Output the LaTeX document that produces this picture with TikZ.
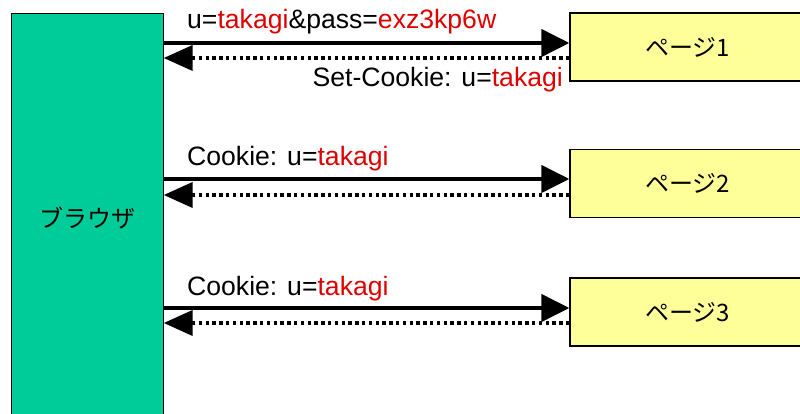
\documentclass[tikz,border=0pt]{standalone}
\usepackage{fontspec}
\setmainfont{Liberation Sans}
\newfontfamily\jpfont{Noto Sans CJK JP}
\usetikzlibrary{arrows.meta,calc}
\definecolor{browsergreen}{RGB}{0,204,153}
\definecolor{pageyellow}{RGB}{255,255,153}
\definecolor{valred}{RGB}{221,0,0}
\tikzset{
  browserbox/.style={draw=black, line width=1.2pt, fill=browsergreen, anchor=north west,
    minimum width=151.5pt, minimum height=408pt, inner sep=0pt,
    font=\jpfont\fontsize{24}{28}\selectfont},
  pagebox/.style={draw=black, line width=1.2pt, fill=pageyellow,
    minimum width=235pt, minimum height=68pt, inner sep=0pt,
    font=\jpfont\fontsize{24}{28}\selectfont},
  req/.style={line width=4.2pt, -{Triangle[length=28pt,width=27pt]}},
  resp/.style={line width=4pt, dash pattern=on 3.5pt off 3.3pt,
    -{Triangle[length=29pt,width=25pt]}},
  msg/.style={inner sep=0pt, font=\fontsize{26.6}{30}\selectfont},
}
\newcommand{\val}[1]{\textcolor{valred}{#1}}
\begin{document}
\begin{tikzpicture}[x=1pt,y=-1pt]
  \useasboundingbox (0,0) rectangle (800,414);
  \clip (0,0) rectangle (800,414);

  % client and the three server pages
  \node[browserbox] (br) at (11,13) {ブラウザ};
  \node[pagebox] (p1) at (687.5,47) {ページ1};
  \node[pagebox] (p2) at (687.5,183.5) {ページ2};
  \node[pagebox] (p3) at (687.5,312) {ページ3};

  % request (solid) and response (dotted) levels beside each page
  \coordinate (q1) at ([yshift=4pt]p1.west);
  \coordinate (r1) at ([yshift=-11pt]p1.west);
  \coordinate (q2) at ([yshift=4.5pt]p2.west);
  \coordinate (r2) at ([yshift=-11.5pt]p2.west);
  \coordinate (q3) at ([yshift=4pt]p3.west);
  \coordinate (r3) at ([yshift=-11pt]p3.west);

  \draw[req]  (br.east |- q1) -- (q1);
  \draw[resp] (r1) -- (br.east |- r1);
  \draw[req]  (br.east |- q2) -- (q2);
  \draw[resp] (r2) -- (br.east |- r2);
  \draw[req]  (br.east |- q3) -- (q3);
  \draw[resp] (r3) -- (br.east |- r3);

  % message labels
  \node[msg, anchor=base west] (m1) at (187,29) {u=\val{takagi}\&pass=\val{exz3kp6w}};
  \node[msg, anchor=base east] (m2) at (563,87) {Set-Cookie: u=\val{takagi}};
  \node[msg, anchor=base west] (m3) at (187,166) {Cookie: u=\val{takagi}};
  \node[msg, anchor=base west] (m4) at (187,295) {Cookie: u=\val{takagi}};
\end{tikzpicture}
\end{document}
